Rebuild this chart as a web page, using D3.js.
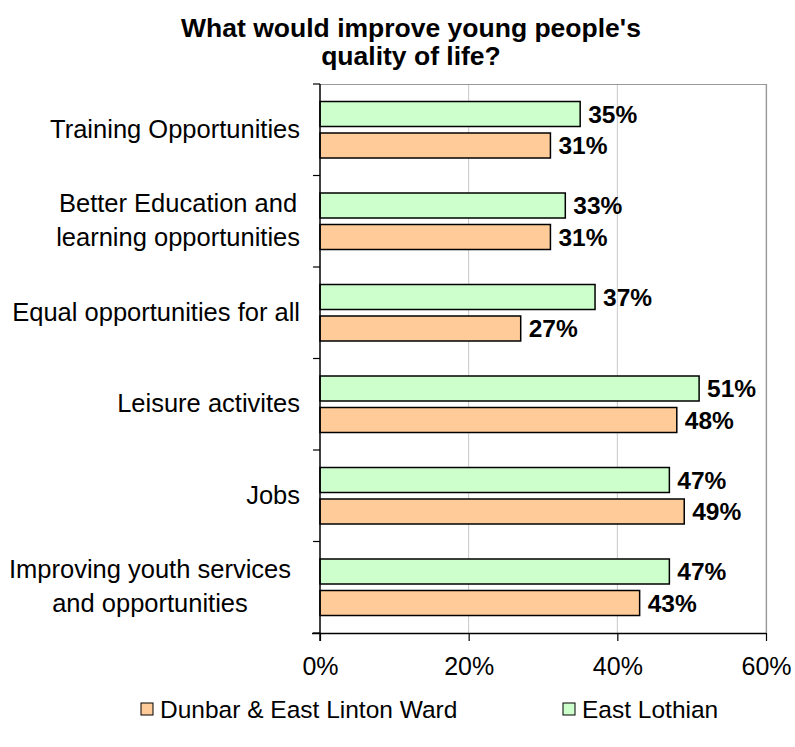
<!DOCTYPE html>
<html><head><meta charset="utf-8">
<script src="https://cdn.jsdelivr.net/npm/d3@7"></script>
<style>body{margin:0;background:#fff}svg{display:block;font-family:"Liberation Sans",Arial,sans-serif}</style>
</head><body><svg id="c" width="795" height="747"></svg>
<script>
const categories = [
  ["Training Opportunities"],
  ["Better Education and","learning opportunities"],
  ["Equal opportunities for all"],
  ["Leisure activites"],
  ["Jobs"],
  ["Improving youth services","and opportunities"]
];
const eastLothian = [35, 33, 37, 51, 47, 47];
const dunbar = [31, 31, 27, 48, 49, 43];
const xTicks = [0, 20, 40, 60];
const seriesNames = ["Dunbar & East Linton Ward", "East Lothian"];
const titleLines = ["What would improve young people's", "quality of life?"];

const svg = d3.select("#c");
const L = 320, R = 766, T = 84, B = 633;
const x = d3.scaleLinear().domain([0, 60]).range([L, R]);
const y = d3.scaleBand().domain(d3.range(categories.length)).range([T, B]);
const barH = 25, gap = 6.5;

// title
svg.append("text").attr("text-anchor", "middle")
  .attr("font-weight", "bold").attr("font-size", 26.5)
  .selectAll("tspan").data(titleLines).join("tspan")
  .attr("x", 411).attr("y", (d, i) => 37 + i * 28).text(d => d);

// gridlines
svg.append("g").selectAll("line").data(xTicks.filter(d => d > 0)).join("line")
  .attr("x1", d => x(d)).attr("x2", d => x(d)).attr("y1", T).attr("y2", B)
  .attr("stroke", "#c8c8c8").attr("stroke-width", 1);
// top and right border
svg.append("path").attr("d", `M${L},${T + 0.5}H${R + 0.5}V${B}`).attr("fill", "none")
  .attr("stroke", "#999").attr("stroke-width", 1.2);

// bars
const g = svg.append("g");
categories.forEach((c, i) => {
  const y0 = y(i) + (y.bandwidth() - (2 * barH + gap)) / 2;
  g.append("rect").attr("x", x(0)).attr("y", y0).attr("width", x(eastLothian[i]) - x(0)).attr("height", barH)
    .attr("fill", "#CCFFCC").attr("stroke", "#000").attr("stroke-width", 1.5);
  g.append("rect").attr("x", x(0)).attr("y", y0 + barH + gap).attr("width", x(dunbar[i]) - x(0)).attr("height", barH)
    .attr("fill", "#FFCC99").attr("stroke", "#000").attr("stroke-width", 1.5);
  g.append("text").attr("x", x(eastLothian[i]) + 8).attr("y", y0 + barH / 2).attr("dy", "0.36em")
    .attr("font-weight", "bold").attr("font-size", 24.5).text(eastLothian[i] + "%");
  g.append("text").attr("x", x(dunbar[i]) + 8).attr("y", y0 + barH * 1.5 + gap).attr("dy", "0.36em")
    .attr("font-weight", "bold").attr("font-size", 24.5).text(dunbar[i] + "%");
});

// left axis
const yAxis = svg.append("g");
yAxis.append("line").attr("x1", L).attr("x2", L).attr("y1", T).attr("y2", B + 8).attr("stroke", "#000").attr("stroke-width", 1.5);
d3.range(categories.length + 1).forEach(i => {
  const yy = i < categories.length ? y(i) : B;
  yAxis.append("line").attr("x1", L - 7).attr("x2", L).attr("y1", yy).attr("y2", yy).attr("stroke", "#000").attr("stroke-width", 1.2);
});
// category labels (block right-aligned, lines centered; very wide blocks sit a little further left)
categories.forEach((lines, i) => {
  const cy = y(i) + y.bandwidth() / 2 - 1;
  const t = svg.append("text").attr("font-size", 25.5).attr("text-anchor", "middle");
  const ts = t.selectAll("tspan").data(lines).join("tspan")
    .attr("y", (d, j) => cy + (j - (lines.length - 1) / 2) * 34).attr("dy", "0.36em").text(d => d);
  let w = 0; ts.each(function () { w = Math.max(w, this.getComputedTextLength()); });
  const right = (lines.length > 1 && w > 260) ? 291 : 300;
  ts.attr("x", right - w / 2);
});

// bottom axis
const xAxis = svg.append("g").attr("transform", `translate(0,${B})`)
  .call(d3.axisBottom(x).tickValues(xTicks).tickFormat(d => d + "%").tickSize(8).tickPadding(16));
xAxis.select(".domain").attr("d", `M${L - 8},0.5H${R}`).attr("stroke-width", 1.5);
xAxis.selectAll(".tick line").attr("stroke-width", 1.2);
xAxis.selectAll(".tick text").attr("font-size", 25).attr("font-family", "Liberation Sans, Arial, sans-serif").attr("fill", "#000");

// legend
const leg = [{ n: seriesNames[0], c: "#FFCC99", x: 141 }, { n: seriesNames[1], c: "#CCFFCC", x: 563 }];
leg.forEach(d => {
  svg.append("rect").attr("x", d.x).attr("y", 703).attr("width", 12).attr("height", 12)
    .attr("fill", d.c).attr("stroke", "#000").attr("stroke-width", 1);
  svg.append("text").attr("x", d.x + 19).attr("y", 709).attr("dy", "0.36em").attr("font-size", 24.5).text(d.n);
});
</script></body></html>
